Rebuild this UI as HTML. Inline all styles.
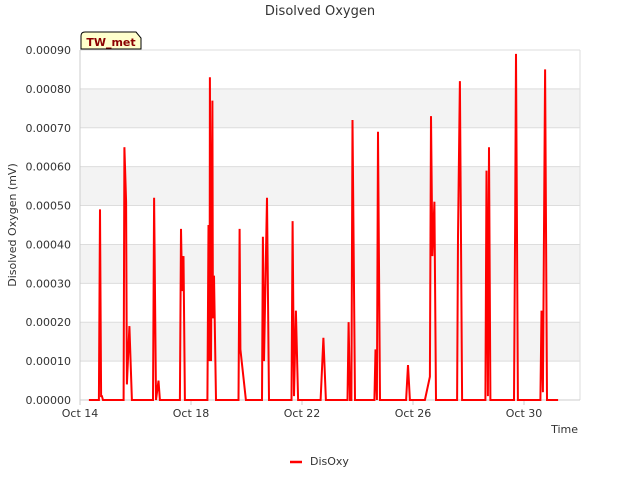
<!DOCTYPE html>
<html><head><meta charset="utf-8"><style>
body{margin:0;background:#fff;font-family:"Liberation Sans","DejaVu Sans",sans-serif;}
svg text{font-family:"DejaVu Sans","Liberation Sans",sans-serif;}
</style></head><body>
<svg id="c" width="640" height="480" viewBox="0 0 640 480">
<text x="320" y="15" text-anchor="middle" font-size="13" fill="#333">Disolved Oxygen</text>
<g id="grid"></g>
<g id="axes"></g>
<g id="series"></g>
<g>
<path d="M81,49 L81,36 Q81,32 85,32 L136,32 L141,38 L141,49 Z" fill="#ffffcc" stroke="#000" stroke-width="1"/>
<text x="111" y="46" text-anchor="middle" font-size="11" font-weight="bold" fill="#8b0000">TW_met</text>
</g>
<text x="16" y="225" transform="rotate(-90 16 225)" text-anchor="middle" font-size="11" fill="#333">Disolved Oxygen (mV)</text>
<text x="578" y="433" text-anchor="end" font-size="11" fill="#333">Time</text>
<g>
<line x1="290" y1="462" x2="302" y2="462" stroke="#ff0000" stroke-width="2.5"/>
<text x="310" y="465" font-size="11" fill="#333">DisOxy</text>
</g>
</svg>
<script>
const days=[0.32,0.68,0.72,0.76,0.79,0.83,1.57,1.60,1.66,1.69,1.78,1.87,2.63,2.67,2.74,2.83,2.88,3.60,3.64,3.68,3.73,3.78,4.59,4.63,4.67,4.68,4.72,4.77,4.79,4.83,4.90,5.71,5.75,5.78,5.98,6.56,6.59,6.63,6.74,6.81,7.62,7.66,7.71,7.78,7.86,8.67,8.77,8.86,9.64,9.68,9.73,9.78,9.82,9.91,10.61,10.65,10.70,10.74,10.81,11.75,11.82,11.89,12.43,12.61,12.65,12.70,12.77,12.83,13.59,13.62,13.69,13.77,14.61,14.65,14.70,14.74,14.79,15.64,15.68,15.71,15.78,16.59,16.63,16.68,16.76,16.83,17.23];
const values=[0,0,0.00049,0.00001,0.00001,0,0,0.00065,0.00051,0.00004,0.00019,0,0,0.00052,0,0.00005,0,0,0.00044,0.00028,0.00037,0,0,0.00045,0.0001,0.00083,0.0001,0.00077,0.00021,0.00032,0,0,0.00044,0.00013,0,0,0.00042,0.0001,0.00052,0,0,0.00046,0.00001,0.00023,0,0,0.00016,0,0,0.0002,0,0,0.00072,0,0,0.00013,0,0.00069,0,0,0.00009,0,0,0.00006,0.00073,0.00037,0.00051,0,0,0.00042,0.00082,0,0,0.00059,0.00001,0.00065,0,0,0.00044,0.00089,0,0,0.00023,0.00002,0.00085,0,0];
const yTicks=[0,0.0001,0.0002,0.0003,0.0004,0.0005,0.0006,0.0007,0.0008,0.0009];
const xTickDays=[0,4,8,12,16];
const xTickLabels=["Oct 14","Oct 18","Oct 22","Oct 26","Oct 30"];
const X0=80,X1=580,Y0=400,Y1=50,PXD=27.75;
const xs=d=>X0+d*PXD, ys=v=>Y0-(v/0.0009)*(Y0-Y1);
const NS="http://www.w3.org/2000/svg";
function mk(t,a,p){const e=document.createElementNS(NS,t);for(const k in a)e.setAttribute(k,a[k]);p.appendChild(e);return e;}
const grid=document.getElementById('grid'),axes=document.getElementById('axes'),ser=document.getElementById('series');
for(let i=0;i<yTicks.length-1;i++){
 if(i%2===1){const b=mk('rect',{x:X0,y:ys(yTicks[i+1]),width:X1-X0,height:ys(yTicks[i])-ys(yTicks[i+1]),fill:'#f3f3f3'},grid);
 
 }
}
yTicks.forEach(v=>{
 const l=mk('line',{x1:X0,x2:X1,y1:ys(v),y2:ys(v),stroke:'#dddddd'},grid);
 
 
 const t=mk('text',{x:X0-9,y:ys(v)+4,'text-anchor':'end','font-size':'11',fill:'#333'},axes);
 t.textContent=v.toFixed(5);
 
 
});
mk('line',{x1:X0,x2:X0,y1:Y1,y2:Y0,stroke:'#ccc'},axes);
mk('line',{x1:X1,x2:X1,y1:Y1,y2:Y0,stroke:'#ddd'},axes);
mk('line',{x1:X0,x2:X1,y1:Y0,y2:Y0,stroke:'#ccc'},axes);
xTickDays.forEach((d,i)=>{
 mk('line',{x1:xs(d),x2:xs(d),y1:Y0,y2:Y0+5,stroke:'#ccc'},axes);
 const t=mk('text',{x:xs(d),y:Y0+17,'text-anchor':'middle','font-size':'11',fill:'#333'},axes);
 t.textContent=xTickLabels[i];
 
 
});
const pts=days.map((d,i)=>xs(d).toFixed(1)+','+ys(values[i]).toFixed(1)).join(' ');
const pl=mk('polyline',{points:pts,fill:'none',stroke:'#ff0000','stroke-width':'2','stroke-linejoin':'miter'},ser);


</script>
</body></html>
